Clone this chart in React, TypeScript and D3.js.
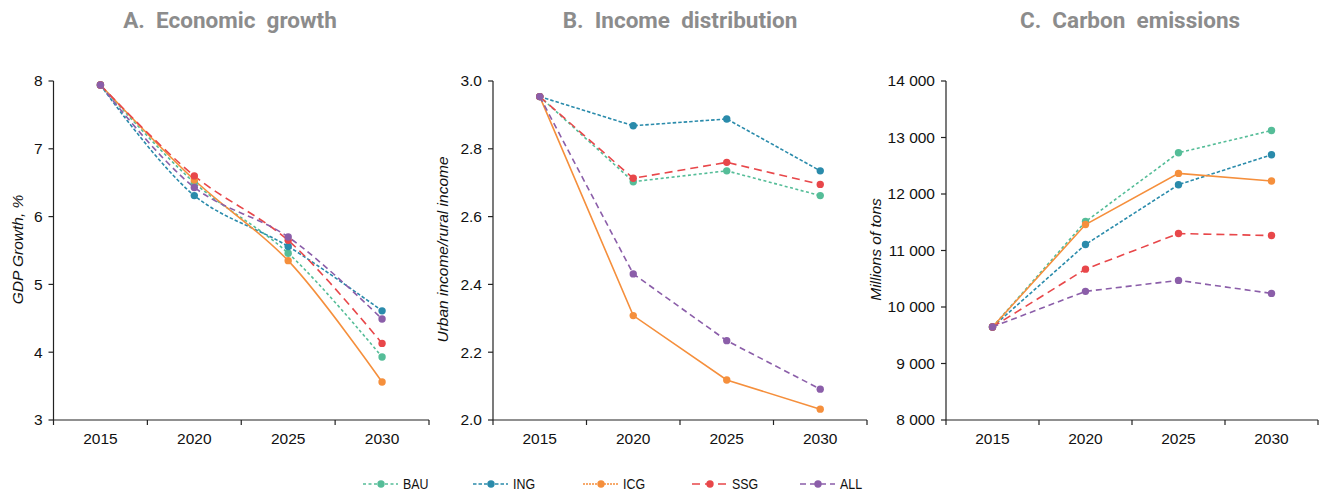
import React from "react";
import * as d3 from "d3";

const years = ["2015", "2020", "2025", "2030"];
const seriesNames = ["BAU", "ING", "ICG", "SSG", "ALL"];

// Panel A: GDP growth, %
const gdpBAU = [7.94, 6.5, 5.46, 3.93];
const gdpING = [7.94, 6.31, 5.56, 4.61];
const gdpICG = [7.94, 6.54, 5.35, 3.56];
const gdpSSG = [7.94, 6.6, 5.65, 4.13];
const gdpALL = [7.94, 6.43, 5.7, 4.49];

// Panel B: Urban income / rural income
const incBAU = [2.954, 2.703, 2.735, 2.662];
const incING = [2.954, 2.868, 2.888, 2.735];
const incICG = [2.954, 2.308, 2.118, 2.032];
const incSSG = [2.954, 2.713, 2.76, 2.695];
const incALL = [2.954, 2.431, 2.234, 2.091];

// Panel C: Carbon emissions, millions of tons
const co2BAU = [9647, 11512, 12729, 13124];
const co2ING = [9647, 11106, 12165, 12694];
const co2ICG = [9647, 11459, 12365, 12230];
const co2SSG = [9647, 10670, 11300, 11265];
const co2ALL = [9647, 10277, 10471, 10241];

const gdpTicks = [3, 4, 5, 6, 7, 8];
const incTicks = [2.0, 2.2, 2.4, 2.6, 2.8, 3.0];
const co2Ticks = [8000, 9000, 10000, 11000, 12000, 13000, 14000];

const colors: Record<string, string> = {
  BAU: "#55bd98",
  ING: "#2a8bab",
  ICG: "#f58f3c",
  SSG: "#e8474a",
  ALL: "#8b5ea9",
};
const dashes: Record<string, string> = {
  BAU: "3,2.5",
  ING: "3.5,2",
  ICG: "none",
  SSG: "8,5",
  ALL: "6,4",
};
const legendDashes: Record<string, string> = {
  BAU: "3,2.5",
  ING: "3.5,2",
  ICG: "2,1",
  SSG: "8,5",
  ALL: "6,4",
};

const fmtSpace = (v: number) => d3.format(",")(v).replace(/,/g, "\u00a0");

type Panel = {
  title: string;
  yLabel: string;
  labelX: number;
  left: number;
  right: number;
  domain: [number, number];
  ticks: number[];
  fmt: (v: number) => string;
  data: Record<string, number[]>;
  smooth: boolean;
  titleX: number;
};

const panels: Panel[] = [
  {
    title: "A.  Economic  growth",
    yLabel: "GDP Growth, %",
    labelX: 18,
    left: 53.5,
    right: 429,
    domain: [3, 8],
    ticks: gdpTicks,
    fmt: (v) => String(v),
    data: { BAU: gdpBAU, ING: gdpING, ICG: gdpICG, SSG: gdpSSG, ALL: gdpALL },
    smooth: true,
    titleX: 230,
  },
  {
    title: "B.  Income  distribution",
    yLabel: "Urban income/rural income",
    labelX: 443,
    left: 493,
    right: 867,
    domain: [2, 3],
    ticks: incTicks,
    fmt: d3.format(".1f"),
    data: { BAU: incBAU, ING: incING, ICG: incICG, SSG: incSSG, ALL: incALL },
    smooth: false,
    titleX: 680,
  },
  {
    title: "C.  Carbon  emissions",
    yLabel: "Millions of tons",
    labelX: 876,
    left: 946,
    right: 1318,
    domain: [8000, 14000],
    ticks: co2Ticks,
    fmt: fmtSpace,
    data: { BAU: co2BAU, ING: co2ING, ICG: co2ICG, SSG: co2SSG, ALL: co2ALL },
    smooth: false,
    titleX: 1130,
  },
];

const TOP = 81;
const BOTTOM = 420;
const tickFont = "'Liberation Sans', Arial, sans-serif";
const FS = 15.5;

function PanelView({ p }: { p: Panel }) {
  const x = d3.scaleBand<string>().domain(years).range([p.left, p.right]).padding(0);
  const y = d3.scaleLinear().domain(p.domain).range([BOTTOM, TOP]);
  const bw = x.bandwidth();
  const cx = (yr: string) => (x(yr) as number) + bw / 2;
  const line = d3
    .line<number>()
    .x((_, i) => cx(years[i]))
    .y((v) => y(v))
    .curve(p.smooth ? d3.curveCatmullRom.alpha(0.5) : d3.curveLinear);
  const edges = [...years.map((yr) => x(yr) as number), p.right];
  const order = ["BAU", "ING", "ICG", "SSG", "ALL"];
  return (
    <g>
      <text
        x={p.titleX}
        y={28}
        textAnchor="middle"
        fontFamily="Roboto, sans-serif"
        fontWeight="bold"
        fontSize={22.5}
        fill="#8c8c8c"
        style={{ whiteSpace: "pre" }}
      >
        {p.title}
      </text>
      <text
        transform={`translate(${p.labelX},${(TOP + BOTTOM) / 2 - 1}) rotate(-90)`}
        textAnchor="middle"
        dy="0.35em"
        fontFamily={tickFont}
        fontStyle="italic"
        fontSize={FS}
        fill="#111"
      >
        {p.yLabel}
      </text>
      <line x1={p.left} x2={p.left} y1={TOP} y2={BOTTOM} stroke="#222" strokeWidth={1.2} />
      {p.ticks.map((t) => (
        <g key={t}>
          <line x1={p.left - 5} x2={p.left} y1={y(t)} y2={y(t)} stroke="#222" strokeWidth={1.2} />
          <text
            x={p.left - 11}
            y={y(t)}
            dy="0.35em"
            textAnchor="end"
            fontFamily={tickFont}
            fontSize={FS}
            fill="#111"
          >
            {p.fmt(t)}
          </text>
        </g>
      ))}
      <line x1={p.left} x2={p.right} y1={BOTTOM} y2={BOTTOM} stroke="#222" strokeWidth={1.2} />
      {edges.map((e, i) => (
        <line key={i} x1={e} x2={e} y1={BOTTOM} y2={BOTTOM + 5} stroke="#222" strokeWidth={1.2} />
      ))}
      {years.map((yr) => (
        <text
          key={yr}
          x={cx(yr)}
          y={444}
          textAnchor="middle"
          fontFamily={tickFont}
          fontSize={FS}
          fill="#111"
        >
          {yr}
        </text>
      ))}
      {order.map((name) => (
        <path
          key={name}
          d={line(p.data[name]) || ""}
          fill="none"
          stroke={colors[name]}
          strokeWidth={1.6}
          strokeDasharray={dashes[name]}
        />
      ))}
      {order.map((name) =>
        p.data[name].map((v, i) => (
          <circle key={name + i} cx={cx(years[i])} cy={y(v)} r={3.7} fill={colors[name]} />
        ))
      )}
    </g>
  );
}

const legendX = [363, 473, 583, 692, 800];

export default function App() {
  return (
    <svg width={1321} height={492} style={{ display: "block", position: "absolute", left: 0, top: 0 }}>
      <rect width={1321} height={492} fill="#fff" />
      {panels.map((p, i) => (
        <PanelView key={i} p={p} />
      ))}
      {seriesNames.map((name, i) => {
        const lx = legendX[i];
        return (
          <g key={name}>
            <line
              x1={lx}
              x2={lx + 35}
              y1={484}
              y2={484}
              stroke={colors[name]}
              strokeWidth={1.6}
              strokeDasharray={legendDashes[name]}
            />
            <circle cx={lx + 18} cy={484} r={3.7} fill={colors[name]} />
            <text
              transform={`translate(${lx + 40},${484}) scale(0.8,1)`}
              dy="0.35em"
              fontFamily={tickFont}
              fontSize={FS}
              fill="#111"
            >
              {name}
            </text>
          </g>
        );
      })}
    </svg>
  );
}
